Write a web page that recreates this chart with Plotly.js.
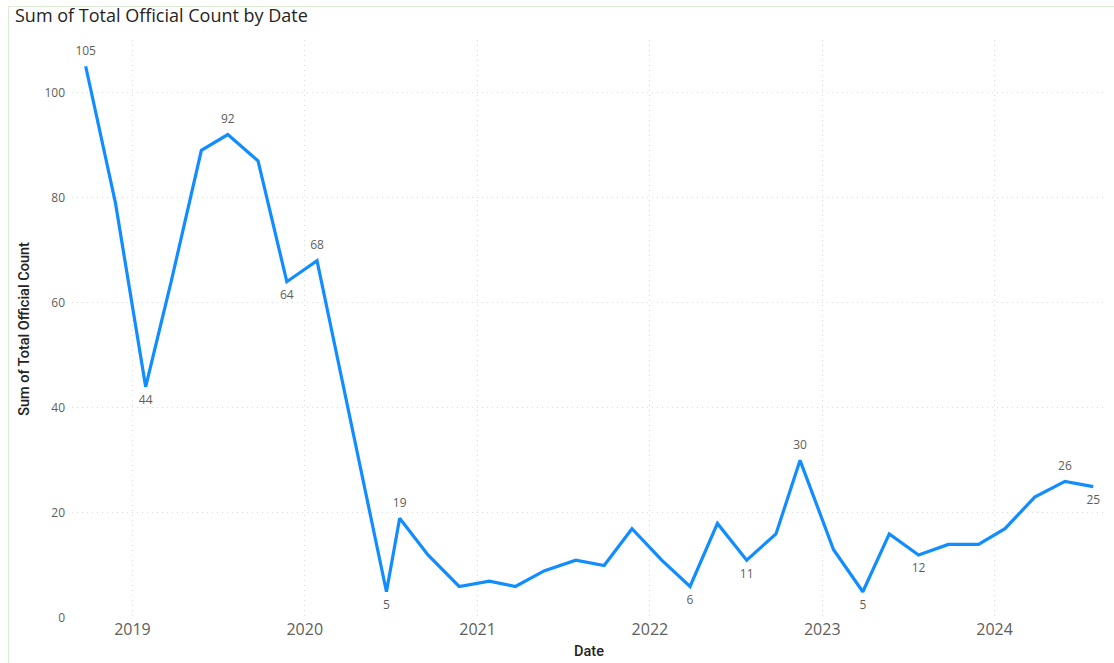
<!DOCTYPE html>
<html>
<head>
<meta charset="utf-8">
<script src="https://cdn.plot.ly/plotly-3.0.1.min.js"></script>
<style>
  html, body { margin: 0; padding: 0; background: #ffffff; overflow: hidden; }
  #chart { width: 1114px; height: 663px; }
  #frame { position: absolute; left: 8px; top: 6px; width: 1200px; height: 800px;
           border-left: 1.5px solid #DCEBD3; border-top: 1.5px solid #DCEBD3; pointer-events: none; }
</style>
</head>
<body>
<div id="chart"></div>
<div id="frame"></div>
<script>
const dates = ['2018-09-24','2018-11-26','2019-01-29','2019-03-24','2019-05-27','2019-07-22','2019-09-24','2019-11-24','2020-01-27','2020-06-22','2020-07-20','2020-09-18','2020-11-23','2021-01-26','2021-03-22','2021-05-23','2021-07-28','2021-09-26','2021-11-24','2022-01-26','2022-03-27','2022-05-24','2022-07-25','2022-09-25','2022-11-15','2023-01-25','2023-03-28','2023-05-23','2023-07-24','2023-09-25','2023-11-28','2024-01-23','2024-03-26','2024-05-29','2024-07-28'];
const counts = [105,79,44,64,89,92,87,64,68,5,19,12,6,7,6,9,11,10,17,11,6,18,11,16,30,13,5,16,12,14,14,17,23,26,25];
const labelled = [105,null,44,null,null,92,null,64,68,5,19,null,null,null,null,null,null,null,null,null,6,null,11,null,30,null,5,null,12,null,null,null,null,26,25];
const yearTicks = ['2019-01-01','2020-01-01','2021-01-01','2022-01-01','2023-01-01','2024-01-01'];
const yearLabels = ['2019','2020','2021','2022','2023','2024'];

const labelText = labelled.map(v => v === null ? '' : String(v));
const labelPos = counts.map((v, i) => {
  const prev = i > 0 ? counts[i-1] : -Infinity;
  const next = i < counts.length - 1 ? counts[i+1] : -Infinity;
  return (v >= prev && v >= next) ? 'top center' : 'bottom center';
});

const trace = {
  x: dates, y: counts, type: 'scatter', mode: 'lines+markers+text',
  line: { color: '#118DFF', width: 3.2, shape: 'linear' },
  marker: { size: 12, opacity: 0, color: '#118DFF' },
  text: labelText, textposition: labelPos,
  textfont: { family: 'Open Sans, DejaVu Sans, sans-serif', size: 12, color: '#605E5C' },
  cliponaxis: false, hoverinfo: 'x+y'
};

const gridStyle = { showgrid: true, gridcolor: '#DADADA', griddash: '1px,4px', gridwidth: 1 };

const layout = {
  width: 1114, height: 663,
  margin: { l: 72, r: 8, t: 40, b: 45 },
  paper_bgcolor: '#ffffff', plot_bgcolor: '#ffffff',
  showlegend: false,
  title: {
    text: 'Sum of Total Official Count by Date',
    font: { family: 'Open Sans, DejaVu Sans, sans-serif', size: 18, color: '#252423' },
    x: 15/1114, xanchor: 'left', xref: 'container', y: 1 - 16/663, yanchor: 'middle', yref: 'container'
  },
  xaxis: Object.assign({
    type: 'date',
    range: ['2018-08-26', '2024-08-24'],
    tickvals: yearTicks, ticktext: yearLabels,
    tickfont: { family: 'Open Sans, DejaVu Sans, sans-serif', size: 16, color: '#605E5C' },
    zeroline: false, showline: false, ticks: '', ticklen: 0,
    title: { text: 'Date', standoff: 6,
      font: { family: 'Roboto, DejaVu Sans, sans-serif', size: 14.5, color: '#252423', weight: 500 } }
  }, gridStyle),
  yaxis: Object.assign({
    range: [0, 110],
    tickvals: [0, 20, 40, 60, 80, 100],
    tickfont: { family: 'Open Sans, DejaVu Sans, sans-serif', size: 12, color: '#605E5C' },
    zeroline: false, showline: false, ticks: '', ticklabelstandoff: 6,
    title: { text: 'Sum of Total Official Count', standoff: 11,
      font: { family: 'Roboto, DejaVu Sans, sans-serif', size: 14.5, color: '#252423', weight: 500 } }
  }, gridStyle)
};

Plotly.newPlot('chart', [trace], layout, { displayModeBar: false, staticPlot: true });
</script>
</body>
</html>
